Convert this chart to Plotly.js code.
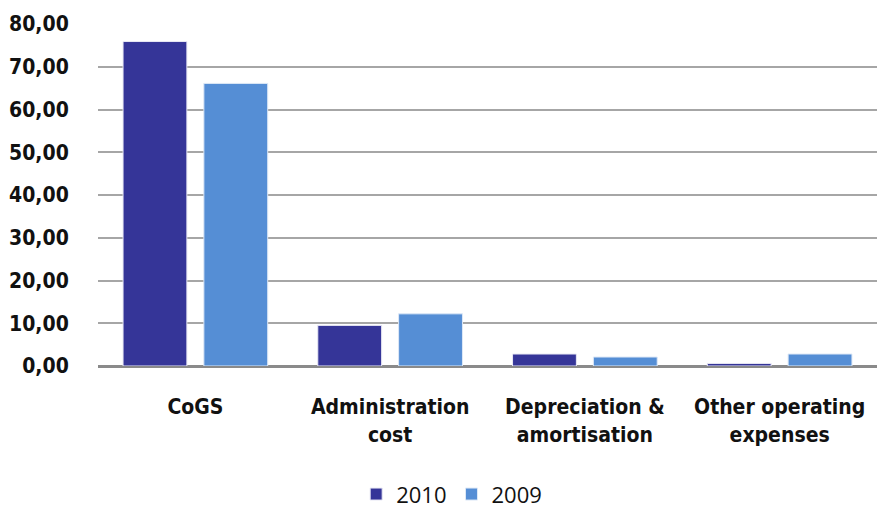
<!DOCTYPE html>
<html><head><meta charset="utf-8">
<script src="https://cdn.plot.ly/plotly-3.0.1.min.js"></script>
<style>body{margin:0;background:#fff}#chart{width:877px;height:513px}</style>
</head><body><div id="chart"></div>
<script>
var categories = ["CoGS", "Administration<br>cost", "Depreciation &<br>amortisation", "Other operating<br>expenses"];
var series2010 = [75.9, 9.5, 2.8, 0.6];
var series2009 = [66.1, 12.2, 2.1, 2.8];
var yTicks = [0, 10, 20, 30, 40, 50, 60, 70, 80];

var traces = [
  {type: "bar", name: "2010", x: categories, y: series2010,
   marker: {color: "#353598", line: {color: "#e8e8f4", width: 1}}},
  {type: "bar", name: "2009", x: categories, y: series2009,
   marker: {color: "#558ed5", line: {color: "#dde8f6", width: 1}}}
];
var labelFont = {family: "DejaVu Sans Condensed, Roboto, sans-serif", size: 21, color: "#111", weight: "bold"};
var layout = {
  width: 877, height: 513,
  margin: {l: 98, r: 0, t: 24, b: 147, autoexpand: false},
  paper_bgcolor: "#fff", plot_bgcolor: "#fff",
  separators: ",.",
  barmode: "group", bargap: 0.17, bargroupgap: 0.21,
  showlegend: true,
  legend: {orientation: "h", x: 0.454, y: -0.375, xanchor: "center", yanchor: "middle",
    font: {family: "Open Sans, sans-serif", size: 22, color: "#111"}, itemwidth: 30, traceorder: "normal"},
  xaxis: {tickfont: labelFont, showgrid: false, ticks: "outside", ticklen: 22, tickcolor: "rgba(0,0,0,0)",
    showline: false, zeroline: false, automargin: false},
  yaxis: {range: [0, 80], tickvals: yTicks, tickformat: ".2f", tickfont: labelFont, automargin: false,
    showgrid: true, gridcolor: "#a6a6a6", gridwidth: 1.5, zeroline: true, zerolinecolor: "#8a8a8a", zerolinewidth: 2.5,
    ticks: "outside", ticklen: 24, tickcolor: "rgba(0,0,0,0)", showline: false}
};
Plotly.newPlot("chart", traces, layout, {displayModeBar: false});
</script></body></html>
